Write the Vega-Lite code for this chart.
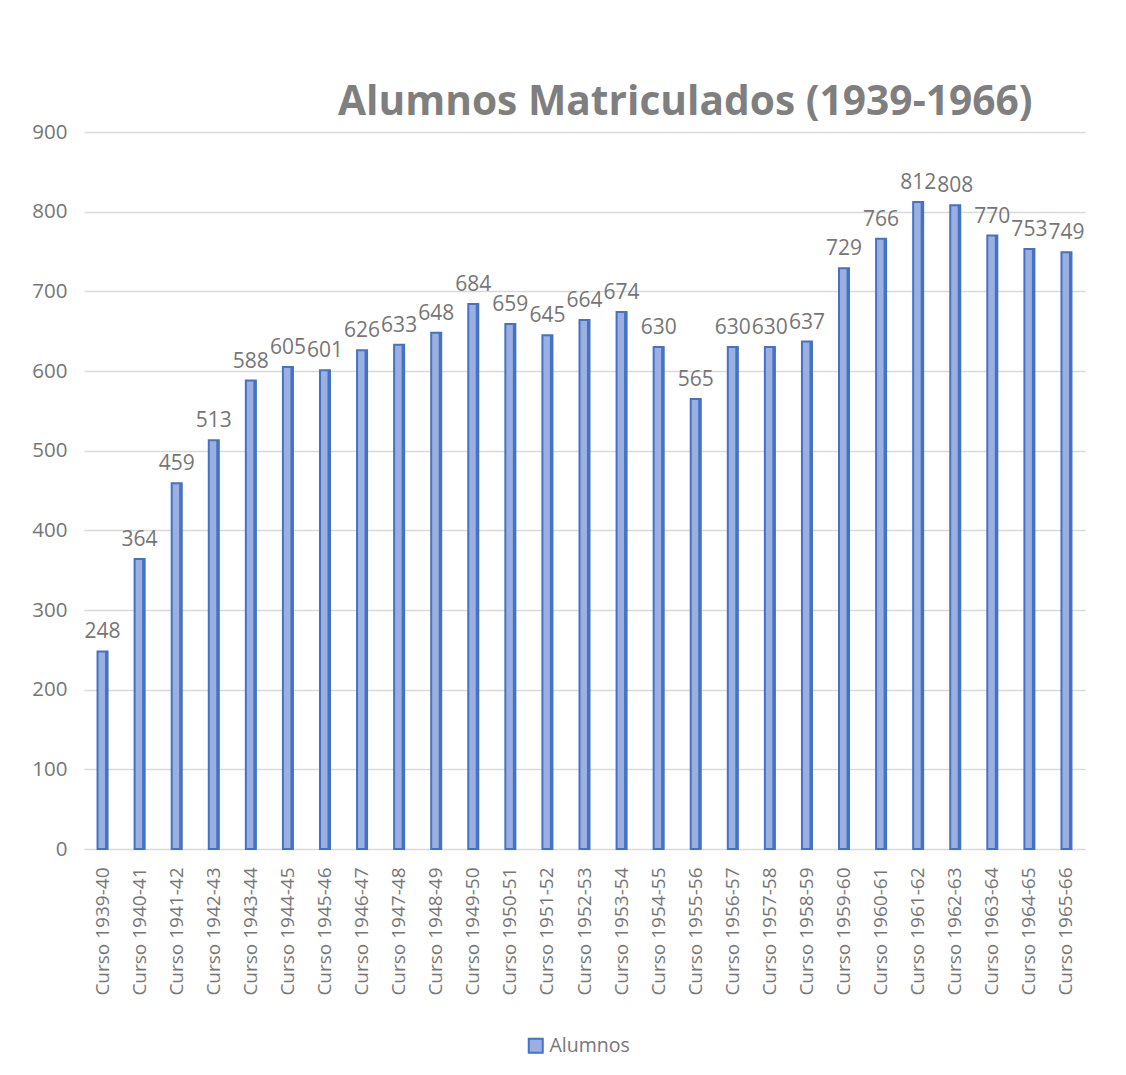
{
  "$schema": "https://vega.github.io/schema/vega-lite/v6.json",
  "autosize": "none",
  "width": 1016,
  "height": 717,
  "padding": {"left": 84, "top": 132, "right": 26, "bottom": 226},
  "background": "white",
  "config": {"view": {"stroke": null}},
  "title": {
    "text": "Alumnos Matriculados (1939-1966)",
    "font": "Open Sans",
    "fontSize": 40.7,
    "fontWeight": "bold",
    "color": "#7f7f7f",
    "anchor": "start",
    "frame": "group",
    "dx": 254,
    "dy": 48,
    "baseline": "alphabetic",
    "offset": 14
  },
  "data": {
    "values": [
      {"curso": "Curso 1939-40", "alumnos": 248},
      {"curso": "Curso 1940-41", "alumnos": 364},
      {"curso": "Curso 1941-42", "alumnos": 459},
      {"curso": "Curso 1942-43", "alumnos": 513},
      {"curso": "Curso 1943-44", "alumnos": 588},
      {"curso": "Curso 1944-45", "alumnos": 605},
      {"curso": "Curso 1945-46", "alumnos": 601},
      {"curso": "Curso 1946-47", "alumnos": 626},
      {"curso": "Curso 1947-48", "alumnos": 633},
      {"curso": "Curso 1948-49", "alumnos": 648},
      {"curso": "Curso 1949-50", "alumnos": 684},
      {"curso": "Curso 1950-51", "alumnos": 659},
      {"curso": "Curso 1951-52", "alumnos": 645},
      {"curso": "Curso 1952-53", "alumnos": 664},
      {"curso": "Curso 1953-54", "alumnos": 674},
      {"curso": "Curso 1954-55", "alumnos": 630},
      {"curso": "Curso 1955-56", "alumnos": 565},
      {"curso": "Curso 1956-57", "alumnos": 630},
      {"curso": "Curso 1957-58", "alumnos": 630},
      {"curso": "Curso 1958-59", "alumnos": 637},
      {"curso": "Curso 1959-60", "alumnos": 729},
      {"curso": "Curso 1960-61", "alumnos": 766},
      {"curso": "Curso 1961-62", "alumnos": 812},
      {"curso": "Curso 1962-63", "alumnos": 808},
      {"curso": "Curso 1963-64", "alumnos": 770},
      {"curso": "Curso 1964-65", "alumnos": 753},
      {"curso": "Curso 1965-66", "alumnos": 749}
    ]
  },
  "encoding": {
    "x": {
      "field": "curso",
      "type": "nominal",
      "sort": null,
      "title": null,
      "scale": {"range": [0, 1001], "paddingInner": 0, "paddingOuter": 0},
      "axis": {
        "labelAngle": -90,
        "labelFont": "Open Sans",
        "labelFontSize": 19,
        "labelColor": "#767676",
        "labelPadding": 18,
        "ticks": false,
        "domain": false,
        "grid": false
      }
    },
    "y": {
      "field": "alumnos",
      "type": "quantitative",
      "title": null,
      "scale": {"domain": [0, 900], "nice": false},
      "axis": {
        "values": [0, 100, 200, 300, 400, 500, 600, 700, 800, 900],
        "labelFont": "Open Sans",
        "labelFontSize": 20.5,
        "labelColor": "#767676",
        "labelPadding": 17,
        "ticks": false,
        "domain": false,
        "gridColor": "#d9d9d9",
        "gridWidth": 1.5
      }
    }
  },
  "layer": [
    {
      "mark": {"type": "bar", "size": 10, "stroke": "#4472c4", "strokeWidth": 2, "fill": "#9bb0e1"},
      "encoding": {
        "color": {
          "datum": "Alumnos",
          "scale": {"range": ["#9bb0e1"]},
          "legend": {
            "title": null,
            "orient": "none",
            "legendX": 442,
            "legendY": 904,
            "symbolType": "square",
            "symbolSize": 196,
            "symbolStrokeColor": "#4472c4",
            "symbolStrokeWidth": 2,
            "symbolFillColor": "#9bb0e1",
            "labelFont": "Open Sans",
            "labelFontSize": 19.5,
            "labelColor": "#767676",
            "padding": 0
          }
        }
      }
    },
    {
      "mark": {"type": "bar", "size": 3, "xOffset": 4, "fill": "#4472c4"},
      "encoding": {}
    },
    {
      "mark": {"type": "text", "font": "Open Sans", "fontSize": 21, "color": "#767676", "baseline": "alphabetic", "dy": -13},
      "encoding": {"text": {"field": "alumnos", "type": "quantitative"}}
    }
  ]
}
